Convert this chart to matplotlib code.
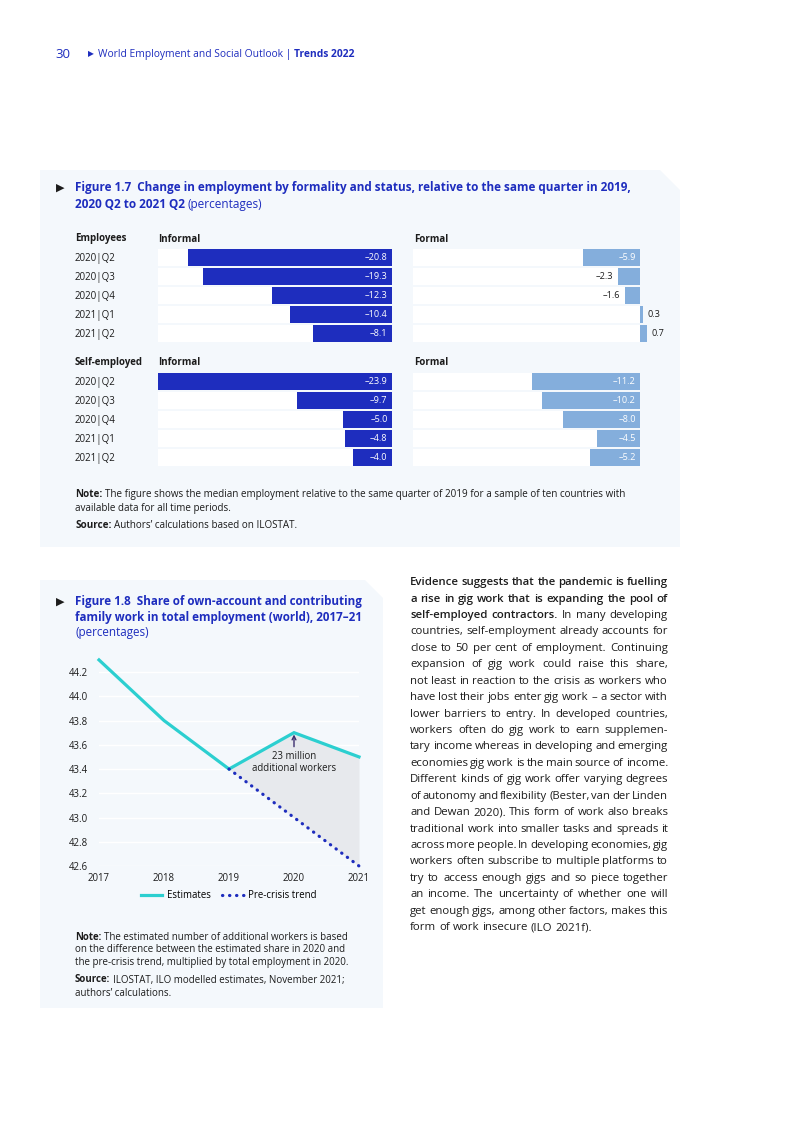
import matplotlib.pyplot as plt
from matplotlib.patches import Polygon

plt.rcParams['font.family'] = ['Open Sans', 'DejaVu Sans']

W, H = 793, 1122
BLUE = '#1e2dbe'
LIGHT = '#84aedc'
TEAL = '#2ccfd0'
PANEL = '#f4f8fc'
INK = '#1c1c1c'

# Figure 1.7 data
quarters = ['2020|Q2', '2020|Q3', '2020|Q4', '2021|Q1', '2021|Q2']
emp_informal = [-20.8, -19.3, -12.3, -10.4, -8.1]
emp_formal = [-5.9, -2.3, -1.6, 0.3, 0.7]
self_informal = [-23.9, -9.7, -5.0, -4.8, -4.0]
self_formal = [-11.2, -10.2, -8.0, -4.5, -5.2]

# Figure 1.8 data
years = [2017, 2018, 2019, 2020, 2021]
estimates = [44.3, 43.8, 43.4, 43.7, 43.5]
trend_years = [2019, 2020, 2021]
trend = [43.4, 43.0, 42.6]
yticks = [42.6, 42.8, 43.0, 43.2, 43.4, 43.6, 43.8, 44.0, 44.2]

body = [
    [("Evidence suggests that the pandemic is fuelling", 'bold')],
    [("a rise in gig work that is expanding the pool of", 'bold')],
    [("self-employed contractors.", 'bold'), ("In many developing", 'normal')],
    [("countries, self-employment already accounts for", 'normal')],
    [("close to 50 per cent of employment. Continuing", 'normal')],
    [("expansion of gig work could raise this share,", 'normal')],
    [("not least in reaction to the crisis as workers who", 'normal')],
    [("have lost their jobs enter gig work \u2013 a sector with", 'normal')],
    [("lower barriers to entry. In developed countries,", 'normal')],
    [("workers often do gig work to earn supplemen-", 'normal')],
    [("tary income whereas in developing and emerging", 'normal')],
    [("economies gig work is the main source of income.", 'normal')],
    [("Different kinds of gig work offer varying degrees", 'normal')],
    [("of autonomy and flexibility (Bester, van der Linden", 'normal')],
    [("and Dewan 2020). This form of work also breaks", 'normal')],
    [("traditional work into smaller tasks and spreads it", 'normal')],
    [("across more people. In developing economies, gig", 'normal')],
    [("workers often subscribe to multiple platforms to", 'normal')],
    [("try to access enough gigs and so piece together", 'normal')],
    [("an income. The uncertainty of whether one will", 'normal')],
    [("get enough gigs, among other factors, makes this", 'normal')],
    [("form of work insecure (ILO 2021f).", 'normal')],
]

fig = plt.figure(figsize=(W / 100, H / 100), dpi=100, facecolor='white')
renderer = fig.canvas.get_renderer()


def fx(x):
    return x / W


def fy(y):
    return 1 - y / H


def axes_px(l, t, r, b):
    return fig.add_axes([fx(l), fy(b), (r - l) / W, (b - t) / H])


def put(x, y, s, size=7, weight='normal', color=INK, ha='left'):
    # y is the middle of the capitals; place on the baseline below it
    return fig.text(fx(x), fy(y + 0.5 * size), s, fontsize=size, fontweight=weight,
                    color=color, ha=ha, va='baseline')


def text_w(s, size, weight):
    t = put(0, 0, s, size, weight)
    w = t.get_window_extent(renderer).width
    t.remove()
    return w


def space_w(size):
    return text_w('x x', size, 'normal') - text_w('xx', size, 'normal')


def rich(x, y, parts, size, color=INK):
    # segments of differing weight, placed one after another
    for s, weight in parts:
        put(x, y, s, size, weight, color)
        x += text_w(s, size, weight) + space_w(size)


def words_of(parts, bold):
    return [(w, bold if wt == 'bold' else wt) for s, wt in parts for w in s.split(' ')]


def fit_size(words, size, width):
    natural = sum(text_w(w, size, wt) for w, wt in words) + 0.6 * space_w(size) * (len(words) - 1)
    return min(size, size * width / natural)


def justified(x, y, words, size, width, color=INK):
    widths = [text_w(w, size, wt) for w, wt in words]
    gap = space_w(size)
    if width is not None:
        gap = (width - sum(widths)) / (len(words) - 1)
    for (w, wt), ww in zip(words, widths):
        put(x, y, w, size, wt, color)
        x += ww + gap


def panel(l, t, r, b, cut):
    pts = [(l, t), (r - cut, t), (r, t + cut), (r, b), (l, b)]
    fig.patches.append(Polygon([(fx(a), fy(c)) for a, c in pts], closed=True,
                               transform=fig.transFigure, facecolor=PANEL,
                               edgecolor='none', zorder=-5))


# page header
put(55, 53, '30', 9.5, color=BLUE)
put(88, 53, '\u25b6', 5.5, color=BLUE)
rich(98, 53, [('World Employment and Social Outlook |', 'normal'),
              ('Trends 2022', 'bold')], 7.4, BLUE)

# ---------- Figure 1.7 ----------
panel(40, 170, 680, 547, 20)
put(56, 187, '\u25b6', 8, color=INK)
put(75, 187, 'Figure 1.7  Change in employment by formality and status, '
    'relative to the same quarter in 2019,', 8.5, 'bold', BLUE)
rich(75, 204, [('2020 Q2 to 2021 Q2', 'bold'), ('(percentages)', 'normal')], 8.5, BLUE)


def bar_block(left, right, top, xmin, values, color):
    ax = axes_px(left, top, right, top + 95)
    rows = list(range(len(values)))
    ax.barh(rows, [-xmin] * len(values), left=xmin, height=0.9, color='white')
    ax.barh(rows, values, height=0.86, color=color, clip_on=False)
    ax.set_xlim(xmin, 0)
    ax.set_ylim(len(values) - 0.5, -0.5)
    ax.axis('off')
    for i, v in enumerate(values):
        lab = f'{v:.1f}'.replace('-', '\u2013')
        if v <= -4:
            ax.text(-0.45, i, lab, color='white', fontsize=6.6, ha='right', va='center')
        elif v < 0:
            ax.text(v - 0.45, i, lab, color=INK, fontsize=6.6, ha='right', va='center')
        else:
            ax.text(v + 0.45, i, lab, color=INK, fontsize=6.6, ha='left', va='center',
                    clip_on=False)


for top, group, informal, formal in [(248, 'Employees', emp_informal, emp_formal),
                                     (372, 'Self-employed', self_informal, self_formal)]:
    put(75, top - 10, group, 7, 'bold')
    put(158, top - 10, 'Informal', 7, 'bold')
    put(414, top - 10, 'Formal', 7, 'bold')
    for i, q in enumerate(quarters):
        put(75, top + 9.5 + 19 * i, q, 7)
    bar_block(158, 392, top, -23.9, informal, BLUE)
    bar_block(413, 640, top, -23.6, formal, LIGHT)

rich(75, 493, [('Note:', 'bold'), ('The figure shows the median employment relative to the '
                                   'same quarter of 2019 for a sample of ten countries with',
                                   'normal')], 7.1)
put(75, 507, 'available data for all time periods.', 7.1)
rich(75, 524, [('Source:', 'bold'), ('Authors\u2019 calculations based on ILOSTAT.', 'normal')], 7.1)

# ---------- Figure 1.8 ----------
panel(40, 580, 383, 1008, 18)
put(56, 601, '\u25b6', 8, color=INK)
put(75, 601, 'Figure 1.8  Share of own-account and contributing', 8.4, 'bold', BLUE)
put(75, 617, 'family work in total employment (world), 2017\u201321', 8.4, 'bold', BLUE)
put(75, 632, '(percentages)', 8.4, color=BLUE)

ax = axes_px(99, 657.5, 359, 866)
ax.set_facecolor('none')
ax.fill_between(trend_years, trend, estimates[2:], color='#e7e9ed', lw=0)
ax.plot(years, estimates, color=TEAL, lw=2.3, label='Estimates',
        solid_joinstyle='miter', clip_on=False)
ax.plot(trend_years, trend, color=BLUE, lw=2.3, linestyle=(0, (0.1, 2.1)),
        dash_capstyle='round', label='Pre-crisis trend', clip_on=False)
ax.set_xlim(2017, 2021)
ax.set_ylim(42.6, 44.32)
ax.set_xticks(years)
ax.set_yticks(yticks)
ax.set_yticklabels([f'{v:.1f}' for v in yticks])
ax.tick_params(length=0, labelsize=6.9, colors=INK)
ax.tick_params(axis='y', pad=8)
ax.tick_params(axis='x', pad=5)
ax.yaxis.grid(True, color='white', lw=1)
ax.set_axisbelow(True)
for s in ax.spines.values():
    s.set_visible(False)
ax.annotate('23 million\nadditional workers', xy=(2020, 43.685), xytext=(2020, 43.55),
            ha='center', va='top', fontsize=6.9, color=INK, linespacing=1.15,
            arrowprops=dict(arrowstyle='->', color='#3b2e6e', lw=1, shrinkA=1, shrinkB=0))
ax.legend(loc='center', bbox_to_anchor=(fx(229), fy(896)), bbox_transform=fig.transFigure,
          ncol=2, frameon=False, fontsize=6.9, handlelength=2.2, columnspacing=1.2,
          handletextpad=0.5)

rich(75, 936, [('Note:', 'bold'), ('The estimated number of additional workers is based', 'normal')], 7)
put(75, 949, 'on the difference between the estimated share in 2020 and', 7)
put(75, 962, 'the pre-crisis trend, multiplied by total employment in 2020.', 7)
rich(75, 979, [('Source:', 'bold'), ('ILOSTAT, ILO modelled estimates, November 2021;', 'normal')], 7)
put(75, 992, 'authors\u2019 calculations.', 7)

# ---------- body text ----------
COL_W = 258
lines = [words_of(p, 'semibold') for p in body]
body_size = min(fit_size(ws, 8.7, COL_W) for ws in lines[3:-1])
for i, ws in enumerate(lines):
    last = i == len(lines) - 1
    size = fit_size(ws, body_size, COL_W)
    justified(410, 581 + 16.43 * i, ws, size, None if last else COL_W)

fig.savefig('out.png', dpi=100)
